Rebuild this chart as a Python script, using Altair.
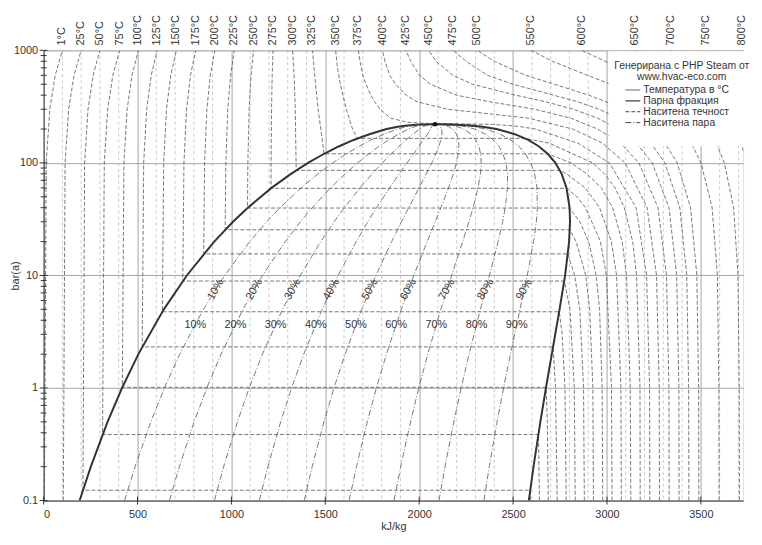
import altair as alt
import numpy as np
import pandas as pd

FONT = "Liberation Sans"

# ---------------- saturation curve (bar, kJ/kg) ----------------
SAT_P = [0.1, 0.2, 0.5, 1, 2, 5, 10, 20, 30, 40, 60, 80, 100, 120, 140, 160, 180, 200, 210, 215, 220, 220.64]
SAT_HF = [191.8, 251.4, 340.5, 417.4, 504.7, 640.1, 762.6, 908.6, 1008.4, 1087.4, 1213.7, 1317.1, 1408.0,
          1491.3, 1571.0, 1650.5, 1734.8, 1826.6, 1886.3, 1935.0, 2011.0, 2084.3]
SAT_HG = [2583.9, 2608.9, 2645.2, 2675.0, 2706.2, 2747.5, 2777.1, 2798.3, 2803.2, 2800.8, 2784.6, 2758.7, 2725.5,
          2685.4, 2638.3, 2580.8, 2509.5, 2411.4, 2337.4, 2275.0, 2173.0, 2084.3]
CRIT_P = [220.64]
CRIT_H = [2084.3]

# ---------------- vapour fraction lines ----------------
QUALITY = [0.1, 0.2, 0.3, 0.4, 0.5, 0.6, 0.7, 0.8, 0.9]
QUALITY_LABELS = ["10%", "20%", "30%", "40%", "50%", "60%", "70%", "80%", "90%"]
QLABEL_P_ROT = 7.5
QLABEL_P_FLAT = 3.65

# ---------------- isotherms: [pressure bar, enthalpy kJ/kg] ----------------
ISO_001 = [[0.1, 4.2], [100, 13.8], [300, 32.9], [600, 61.7], [1000, 100]]
ISO_025 = [[0.1, 104.8], [100, 114.3], [300, 133.4], [600, 161.9], [1000, 200]]
ISO_050 = [[0.1, 2592.6], [0.1235, 2591.3], [0.1235, 209.3], [100, 218.4], [300, 236.5], [600, 263.7], [1000, 300]]
ISO_075 = [[0.1, 2640.3], [0.386, 2635.3], [0.386, 313.9], [100, 323.0], [300, 341.2], [600, 368.5], [1000, 405]]
ISO_100 = [[0.1, 2687.5], [0.5, 2682.4], [1.014, 2675.6], [1.014, 419.1], [100, 427.6], [300, 444.8],
           [600, 470.5], [1000, 505]]
ISO_125 = [[0.1, 2735.0], [1, 2726.0], [2.32, 2713.1], [2.32, 525.0], [100, 532.8], [300, 548.9],
           [600, 572.9], [1000, 605]]
ISO_150 = [[0.1, 2783.0], [1, 2776.4], [3, 2761.2], [4.76, 2745.9], [4.76, 632.2], [100, 639.4], [300, 654.4],
           [600, 676.9], [1000, 707]]
ISO_175 = [[0.1, 2831.0], [1, 2826.0], [5, 2803.0], [8.92, 2773.2], [8.92, 741.0], [100, 747.3], [300, 761.2],
           [600, 782.0], [1000, 810]]
ISO_200 = [[0.1, 2879.5], [1, 2875.3], [5, 2855.4], [10, 2827.9], [15.54, 2792.0], [15.54, 852.3], [100, 857.4],
           [300, 869.5], [600, 887.5], [1000, 912]]
ISO_225 = [[0.1, 2928.0], [1, 2925.0], [5, 2908.0], [10, 2887.0], [20, 2836.0], [25.48, 2801.9], [25.48, 966.7],
           [100, 970.5], [300, 980.6], [600, 995.8], [1000, 1016]]
ISO_250 = [[0.1, 2977.3], [1, 2974.3], [5, 2960.7], [10, 2942.6], [20, 2902.5], [30, 2855.8], [39.73, 2801.0],
           [39.73, 1085.7], [100, 1087.7], [300, 1094.4], [600, 1104.5], [1000, 1118]]
ISO_275 = [[0.1, 3027.0], [1, 3024.0], [10, 2997.0], [20, 2965.0], [40, 2886.0], [50, 2840.0], [59.46, 2785.0],
           [59.46, 1210.9], [100, 1211.4], [300, 1213.7], [600, 1217.1], [1000, 1222]]
ISO_300 = [[0.1, 3076.5], [1, 3074.3], [10, 3051.2], [20, 3023.5], [40, 2960.7], [60, 2884.2], [80, 2785.0],
           [85.88, 2749.6], [85.88, 1344.8], [100, 1344.5], [300, 1340.0], [600, 1334.0], [1000, 1326]]
ISO_325 = [[0.1, 3127.0], [1, 3124.0], [10, 3104.0], [20, 3081.0], [40, 3030.0], [60, 2970.0], [80, 2893.0],
           [100, 2809.1], [120.6, 2684.3], [120.6, 1493.6], [200, 1476], [300, 1462], [500, 1448], [700, 1440],
           [1000, 1432]]
ISO_350 = [[0.1, 3177.0], [1, 3175.8], [10, 3157.7], [20, 3137.0], [40, 3092.5], [60, 3043.0], [80, 2987.3],
           [100, 2923.4], [150, 2692.4], [165.3, 2563.6], [165.3, 1671.0], [200, 1645], [300, 1612], [500, 1580],
           [700, 1565], [1000, 1555]]
ISO_375 = [[0.1, 3228], [1, 3227], [10, 3211], [40, 3155], [100, 3013], [150, 2845], [200, 2619], [210, 2540],
           [215, 2480], [220, 2390], [222, 2250], [225, 2020], [230, 1935], [250, 1848], [300, 1791.5],
           [350, 1762.4], [400, 1742.8], [500, 1716.6], [600, 1699.5], [800, 1685], [1000, 1676]]

SC_P = [0.1, 1, 10, 40, 100, 150, 200, 250, 300, 350, 400, 500, 600, 800, 1000]
H_400 = [3279.6, 3278.2, 3263.9, 3213.6, 3096.5, 2975.5, 2818.1, 2580.2, 2151.1, 1987.6, 1930.9, 1874.6, 1843.4, 1818, 1805]
H_425 = [3331, 3330, 3317, 3272, 3170, 3072, 2950, 2806.3, 2614.2, 2373.4, 2198.1, 2060.0, 2001.7, 1955, 1930]
H_450 = [3384, 3383, 3371.3, 3330.3, 3240.9, 3156.2, 3060.1, 2949.7, 2821.4, 2672.4, 2512.8, 2284.0, 2179.0, 2090, 2050]
H_475 = [3436, 3435, 3425, 3388, 3308, 3234, 3152, 3060, 2958, 2843, 2715, 2500, 2365, 2250, 2180]
H_500 = [3489.1, 3488.1, 3478.5, 3445.3, 3373.7, 3308.6, 3238.2, 3162.4, 3081.1, 2994.4, 2903.3, 2720.1, 2567.9, 2400, 2310]
H_550 = [3597, 3596, 3588, 3560, 3500.9, 3448.6, 3393.5, 3335.6, 3275.4, 3213.0, 3149.1, 3019.5, 2896.2, 2710, 2595]
H_600 = [3705.4, 3704.4, 3697.9, 3674.4, 3625.3, 3582.3, 3537.6, 3491.4, 3443.9, 3395.5, 3346.4, 3247.6, 3151.2, 2990, 2865]
H_650 = [3816, 3815, 3810, 3790, 3748, 3712, 3675, 3637.4, 3598.9, 3559.9, 3520.6, 3441.8, 3364.6, 3235, 3150]
H_700 = [3928.7, 3928, 3924.2, 3905, 3870.5, 3840, 3809, 3777.6, 3745.7, 3713.5, 3681.2, 3616.8, 3553.6, 3440, 3340]
H_750 = [4043, 4042, 4039, 4024, 3993, 3966, 3939, 3912, 3885, 3857, 3830, 3775, 3721, 3615, 3525]
H_800 = [4159, 4158.5, 4156, 4143, 4114, 4092, 4069, 4047.1, 4024.2, 4001.5, 3978.7, 3933.6, 3889.1, 3800, 3720]

ISOTHERMS = {
    1: ISO_001, 25: ISO_025, 50: ISO_050, 75: ISO_075, 100: ISO_100, 125: ISO_125, 150: ISO_150,
    175: ISO_175, 200: ISO_200, 225: ISO_225, 250: ISO_250, 275: ISO_275, 300: ISO_300, 325: ISO_325,
    350: ISO_350, 375: ISO_375,
}
for t, hs in [(400, H_400), (425, H_425), (450, H_450), (475, H_475), (500, H_500), (550, H_550),
              (600, H_600), (650, H_650), (700, H_700), (750, H_750), (800, H_800)]:
    ISOTHERMS[t] = [[p, h] for p, h in zip(SC_P, hs)]

X_TICKS = [0, 500, 1000, 1500, 2000, 2500, 3000, 3500]
X_MINOR = [v for v in range(100, 3800, 100) if v % 500 != 0]
Y_TICKS = [0.1, 1, 10, 100, 1000]
Y_MINOR = [m * d for d in [0.1, 1, 10, 100] for m in range(2, 10)]

LEGEND_HEAD = ["Генерирана с PHP Steam от", "www.hvac-eco.com"]
LEGEND_ITEMS = ["Температура в °C", "Парна фракция", "Наситена течност", "Наситена пара"]

# ---------------- tables ----------------
iso_df = pd.DataFrame([{"T": t, "i": i, "p": p, "h": h}
                       for t, pts in ISOTHERMS.items() for i, (p, h) in enumerate(pts)])
tlabel_df = pd.DataFrame([{"T": t, "lab": f"{t}°C", "h": pts[-1][1]} for t, pts in ISOTHERMS.items()])

q_rows = []
for q in QUALITY:
    for i, (p, hf, hg) in enumerate(zip(SAT_P, SAT_HF, SAT_HG)):
        q_rows.append({"q": q, "i": i, "p": p, "h": hf + q * (hg - hf)})
q_df = pd.DataFrame(q_rows)

lp = np.log10(SAT_P)
def sat_at(p):
    return np.interp(np.log10(p), lp, SAT_HF), np.interp(np.log10(p), lp, SAT_HG)
hf_r, hg_r = sat_at(QLABEL_P_ROT)
hf_f, hg_f = sat_at(QLABEL_P_FLAT)
qlab_rot = pd.DataFrame({"lab": QUALITY_LABELS, "p": QLABEL_P_ROT,
                         "h": [hf_r + q * (hg_r - hf_r) for q in QUALITY]})
qlab_flat = pd.DataFrame({"lab": QUALITY_LABELS, "p": QLABEL_P_FLAT,
                          "h": [hf_f + q * (hg_f - hf_f) for q in QUALITY]})

sat_df = pd.DataFrame({"p": SAT_P + SAT_P[::-1], "h": SAT_HF + SAT_HG[::-1],
                       "i": list(range(2 * len(SAT_P)))})
crit_df = pd.DataFrame({"p": CRIT_P, "h": CRIT_H})

# ---------------- encodings ----------------
W, H = 707, 455
XMAX = 3725
AX = dict(labelFont=FONT, labelFontSize=11, labelColor="#333", titleFont=FONT, titleFontSize=11,
          titleFontWeight="normal", titleColor="#333", domainColor="#444", tickSize=0,
          gridColor="#999", gridWidth=0.9)

def X():
    return alt.X("h:Q", scale=alt.Scale(domain=[0, XMAX], nice=False, zero=False),
                 axis=alt.Axis(values=X_TICKS, format="d", title="kJ/kg", labelPadding=8, titlePadding=1, **AX))

def Y():
    return alt.Y("p:Q", scale=alt.Scale(type="log", domain=[0.1, 1000], nice=False),
                 axis=alt.Axis(values=Y_TICKS, format="~g", title="bar(a)", labelPadding=6,
                               titleX=-23, titleY=H / 2, titleAngle=270, titleAlign="center",
                               titleBaseline="bottom", **AX))

minor_grid = alt.Chart(pd.DataFrame({"h": X_MINOR})).mark_rule(
    color="#b0b0b0", strokeWidth=0.7, strokeDash=[3, 3]).encode(x=X())
iso = alt.Chart(iso_df).mark_line(clip=True, color="#555", strokeWidth=0.8, strokeDash=[4, 2]).encode(
    x=X(), y=Y(), detail="T:N", order="i:Q")
qual = alt.Chart(q_df).mark_line(clip=True, color="#555", strokeWidth=0.8, strokeDash=[6, 2, 1, 2]).encode(
    x=X(), y=Y(), detail="q:N", order="i:Q")
sat = alt.Chart(sat_df).mark_line(clip=True, color="#333", strokeWidth=2).encode(x=X(), y=Y(), order="i:Q")
crit = alt.Chart(crit_df).mark_point(filled=True, color="#111", size=22, opacity=1).encode(x=X(), y=Y())

qtext_rot = alt.Chart(qlab_rot).mark_text(font=FONT, fontSize=11, color="#333", angle=300).encode(
    x=X(), y=Y(), text="lab:N")
qtext_flat = alt.Chart(qlab_flat).mark_text(font=FONT, fontSize=11, color="#333").encode(
    x=X(), y=Y(), text="lab:N")

tlabels = alt.Chart(tlabel_df).mark_text(font=FONT, fontSize=11, color="#333", angle=270, align="left",
                                         baseline="middle").encode(
    x=X(), y=alt.value(-5), text="lab:N")

# crossing axis ticks
ytick_major = alt.Chart(pd.DataFrame({"p": Y_TICKS})).mark_rule(color="#333", strokeWidth=1).encode(
    y=Y(), x=alt.value(-4), x2=alt.value(4))
ytick_minor = alt.Chart(pd.DataFrame({"p": Y_MINOR})).mark_rule(color="#333", strokeWidth=1).encode(
    y=Y(), x=alt.value(-3), x2=alt.value(3))
xtick = alt.Chart(pd.DataFrame({"h": X_TICKS})).mark_rule(color="#333", strokeWidth=1).encode(
    x=X(), y=alt.value(H - 4), y2=alt.value(H + 4))

# legend (white box + entries)
one = pd.DataFrame({"a": [0]})
leg_box = alt.Chart(one).mark_rect(color="white").encode(
    x=alt.value(571), x2=alt.value(709), y=alt.value(1), y2=alt.value(97))
leg_layers = [leg_box]
for k, txt in enumerate(LEGEND_HEAD):
    leg_layers.append(alt.Chart(pd.DataFrame({"t": [txt]})).mark_text(
        font=FONT, fontSize=10.5, color="#333", align="center", baseline="middle").encode(
        text="t:N", x=alt.value(645), y=alt.value(16 + 11 * k)))
dashes = [[1, 0], [1, 0], [4, 2], [6, 2, 1, 2]]
widths = [0.9, 1.3, 1.0, 1.0]
for k, txt in enumerate(LEGEND_ITEMS):
    yy = 40 + 11 * k
    leg_layers.append(alt.Chart(one).mark_rule(color="#444", strokeWidth=widths[k], strokeDash=dashes[k]).encode(
        x=alt.value(588), x2=alt.value(603), y=alt.value(yy)))
    leg_layers.append(alt.Chart(pd.DataFrame({"t": [txt]})).mark_text(
        font=FONT, fontSize=10.5, color="#333", align="left", baseline="middle").encode(
        text="t:N", x=alt.value(606), y=alt.value(yy)))

chart = alt.layer(minor_grid, iso, qual, sat, crit, qtext_rot, qtext_flat, tlabels, ytick_major, ytick_minor,
                  xtick, *leg_layers).properties(
    width=W, height=H,
    autosize=alt.AutoSizeParams(type="none"),
    padding={"left": 36, "top": 40, "right": 11, "bottom": 34},
).configure_view(stroke=None).configure(background="white")

chart.save("out.html", embed_options={"renderer": "svg", "actions": False})
